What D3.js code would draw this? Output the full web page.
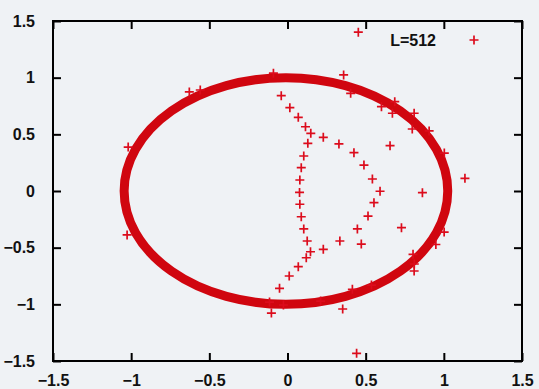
<!DOCTYPE html>
<html>
<head>
<meta charset="utf-8">
<script src="https://cdnjs.cloudflare.com/ajax/libs/d3/7.8.5/d3.min.js"></script>
<style>
  body { margin: 0; background: #eff2f5; }
  svg { display: block; }
  .tick text { font-family: "Liberation Sans", Arial, sans-serif; font-weight: bold; font-size: 16px; fill: #111; }
</style>
</head>
<body>
<div id="chart"></div>
<script>
// tick values, both axes
var xTicks = [-1.5, -1, -0.5, 0, 0.5, 1, 1.5]
var yTicks = [-1.5, -1, -0.5, 0, 0.5, 1, 1.5]

// the dense band of points on the unit circle (slightly wide in x)
var ringCenter = [-0.01, 0]
var ringRadius = [1.035, 1.0]

// individual '+' points, x values and y values
var ptX = [0.453, 0.442, 1.135,
  -0.09, 0.359, 0.404, -0.628, -0.558, -1.019, -1.026, -0.115, -0.103, -0.026, 0.212, 0.353, 0.415, 0.537,
  0.601, 0.686, 0.671, 0.81, 0.798, 0.906, 1.003, 1.002, 0.949, 0.803, 0.811, 0.81,
  -0.04, 0.015, 0.069, 0.115, 0.149, 0.13, 0.104, 0.088, 0.079, 0.077, 0.079, 0.088, 0.104, 0.126, 0.147, 0.12, 0.069, 0.011, -0.051,
  0.229, 0.329, 0.425, 0.489, 0.543, 0.592, 0.553, 0.515, 0.447, 0.335, 0.229, 0.472,
  0.656, 0.863, 0.729]
var ptY = [1.401, -1.432, 0.112,
  1.04, 1.024, 0.862, 0.874, 0.891, 0.388, -0.388, -0.98, -1.077, -1.006, -0.971, -1.041, -0.868, -0.83,
  0.744, 0.788, 0.686, 0.686, 0.547, 0.53, 0.335, -0.362, -0.472, -0.559, -0.644, -0.706,
  0.841, 0.735, 0.65, 0.567, 0.509, 0.421, 0.309, 0.206, 0.097, -0.013, -0.117, -0.227, -0.335, -0.441, -0.536, -0.589, -0.668, -0.75, -0.859,
  0.474, 0.415, 0.338, 0.229, 0.106, -0.002, -0.103, -0.221, -0.335, -0.441, -0.515, -0.468,
  0.4, -0.015, -0.324]

var legendLabel = "L=512"

const W = 539, H = 389
const padL = 53, padR = 522, padT = 21, padB = 361

const xScale = d3.scaleLinear().domain([-1.5, 1.5]).range([padL, padR])
const yScale = d3.scaleLinear().domain([-1.5, 1.5]).range([padB, padT])

const svg = d3.select("#chart").append("svg")
  .attr("width", W)
  .attr("height", H)

svg.append("rect").attr("width", W).attr("height", H).attr("fill", "#eff2f5")

// the ring
svg.append("ellipse")
  .attr("cx", xScale(ringCenter[0]))
  .attr("cy", yScale(ringCenter[1]))
  .attr("rx", xScale(ringCenter[0] + ringRadius[0]) - xScale(ringCenter[0]))
  .attr("ry", yScale(ringCenter[1]) - yScale(ringCenter[1] + ringRadius[1]))
  .attr("fill", "none")
  .attr("stroke", "#d0060f")
  .attr("stroke-width", 9)

// plus markers
var pts = ptX.map((x, i) => [x, ptY[i]])
var plus = "M-4.5,0H4.5M0,-4.5V4.5"
svg.append("g").selectAll("path")
  .data(pts)
  .enter()
  .append("path")
  .attr("transform", d => "translate(" + xScale(d[0]) + "," + yScale(d[1]) + ")")
  .attr("d", plus)
  .attr("stroke", "#dc0c1c")
  .attr("stroke-width", 1.7)
  .attr("fill", "none")

// axes: ticks point inward on all 4 sides, labels only left/bottom
const xAxis = d3.axisBottom(xScale).tickValues(xTicks).tickSize(-8).tickPadding(14).tickFormat(d3.format("~g"))
const yAxis = d3.axisLeft(yScale).tickValues(yTicks).tickSize(-8).tickPadding(18).tickFormat(d3.format("~g"))
const xTop = d3.axisTop(xScale).tickValues(xTicks).tickSize(-8).tickFormat("")
const yRight = d3.axisRight(yScale).tickValues(yTicks).tickSize(-8).tickFormat("")

function style(g) {
  g.select(".domain").remove()
  g.selectAll(".tick line").attr("stroke", "#000").attr("stroke-width", 2)
}
svg.append("g").attr("transform", "translate(0," + padB + ")").call(xAxis).call(style)
svg.append("g").attr("transform", "translate(" + padL + ",0)").call(yAxis).call(style)
svg.append("g").attr("transform", "translate(0," + padT + ")").call(xTop).call(style)
svg.append("g").attr("transform", "translate(" + padR + ",0)").call(yRight).call(style)

// frame
svg.append("rect")
  .attr("x", padL).attr("y", padT)
  .attr("width", padR - padL).attr("height", padB - padT)
  .attr("fill", "none").attr("stroke", "#000").attr("stroke-width", 2)

// key
svg.append("text")
  .attr("x", 436).attr("y", 46)
  .attr("text-anchor", "end")
  .style("font-family", "'Liberation Sans', Arial, sans-serif")
  .style("font-weight", "bold")
  .style("font-size", "16px")
  .attr("fill", "#111")
  .text(legendLabel)
svg.append("path")
  .attr("transform", "translate(474,40)")
  .attr("d", plus)
  .attr("stroke", "#dc0c1c")
  .attr("stroke-width", 1.7)
</script>
</body>
</html>
